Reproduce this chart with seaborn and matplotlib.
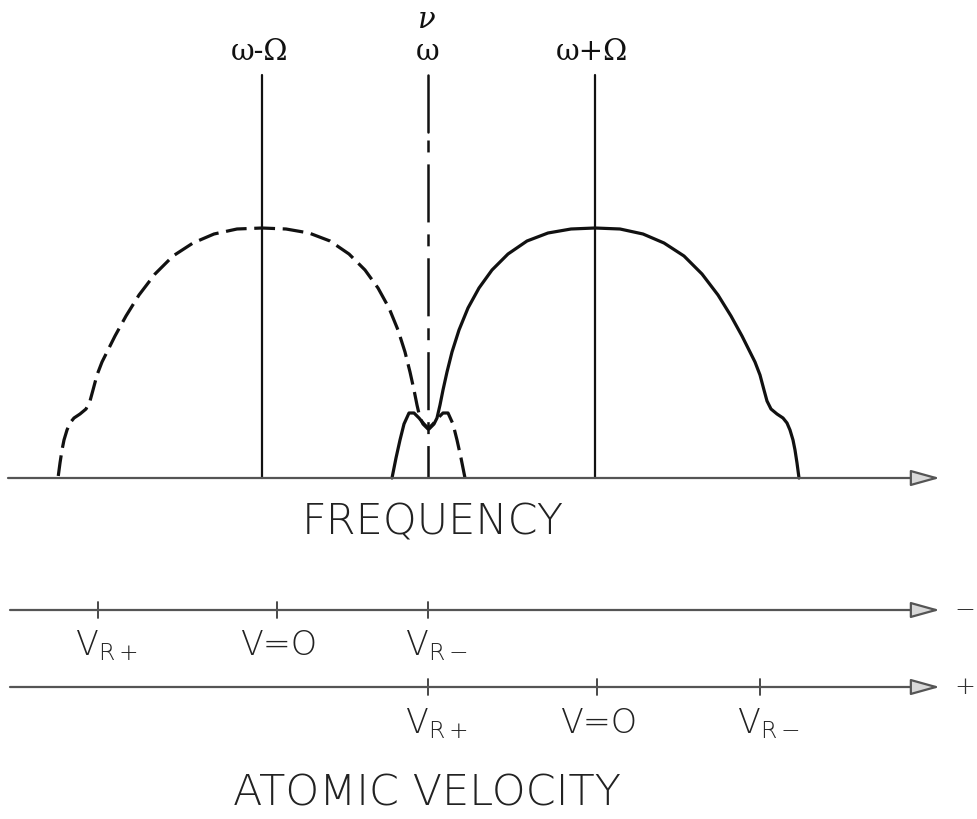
import matplotlib
matplotlib.use("Agg")
import matplotlib.pyplot as plt
import seaborn as sns
import numpy as np

sns.set_style("white")
plt.rcParams["font.family"] = ["DejaVu Sans"]
plt.rcParams["lines.scale_dashes"] = False
plt.rcParams["mathtext.fontset"] = "dejavusans"

# ---------------- data (canvas units: x = frequency position, y = screen height) -------------
omega_labels = ["ω-Ω", "ω", "ω+Ω"]
omega_pos = [262, 428, 595]

# solid spectrum (upper sideband, centered at ω+Ω)
solid_x = [392, 396, 400, 404, 409, 414, 419, 424, 429, 434, 437, 440, 443, 447, 452, 459, 468,
           479, 492, 508, 527, 548, 571, 595, 620, 643, 664, 684, 702, 718, 731, 742, 750, 755,
           760, 764, 767, 771, 777, 783, 787, 790, 793, 795, 797, 799]
solid_y = [478, 458, 440, 424, 413, 413, 418, 424, 429, 424, 418, 405, 390, 372, 352, 330, 308,
           288, 270, 254, 241, 233, 229, 228, 229, 234, 243, 256, 274, 295, 316, 336, 352, 362,
           375, 390, 401, 409, 414, 418, 423, 430, 440, 450, 463, 478]

# dashed spectrum (lower sideband, centered at ω-Ω)
dashed_x = [465, 461, 457, 453, 448, 443, 438, 433, 428, 423, 420, 417, 414, 410, 405, 398, 389,
            378, 365, 349, 330, 309, 286, 262, 237, 214, 193, 173, 155, 139, 126, 115, 107, 102,
            97, 93, 90, 86, 80, 74, 70, 67, 64, 62, 60, 58]
dashed_y = [478, 458, 440, 424, 413, 413, 418, 424, 429, 424, 418, 405, 390, 372, 352, 330, 308,
            288, 270, 254, 241, 233, 229, 228, 229, 234, 243, 256, 274, 295, 316, 336, 352, 362,
            375, 390, 401, 409, 414, 418, 423, 430, 440, 450, 463, 478]

# velocity axes
vel_minus_ticks = [98, 277, 428]
vel_minus_labels = [("V", "R+"), ("V=O", ""), ("V", "R-")]
vel_plus_ticks = [428, 597, 760]
vel_plus_labels = [("V", "R+"), ("V=O", ""), ("V", "R-")]

# ---------------- figure ----------------
fig = plt.figure(figsize=(9.78, 8.19), dpi=100)
ax = fig.add_axes([0, 0, 1, 1])
ax.set_xlim(0, 978)
ax.set_ylim(819, 0)
ax.axis("off")

INK = "#111111"
AXC = "#3a3a3a"

y_freq = 478
y_vm = 610
y_vp = 687
line_top = 75

# sideband & carrier vertical lines
for xp in (omega_pos[0], omega_pos[2]):
    sns.lineplot(x=[xp, xp], y=[line_top, y_freq], ax=ax, color=INK, lw=1.6,
                 sort=False, estimator=None)
# carrier: solid top then dash pattern
sns.lineplot(x=[omega_pos[1], omega_pos[1]], y=[line_top, 132], ax=ax, color=INK, lw=1.8,
             sort=False, estimator=None)
sns.lineplot(x=[omega_pos[1], omega_pos[1]], y=[140, y_freq], ax=ax, color=INK, lw=1.8,
             sort=False, estimator=None)
ax.lines[-1].set_linestyle((0, (8.6, 8.6, 41.8, 8.6)))

# spectra
sns.lineplot(x=solid_x, y=solid_y, ax=ax, color=INK, lw=2.3, sort=False, estimator=None)
ax.lines[-1].set_solid_capstyle("round")
sns.lineplot(x=dashed_x, y=dashed_y, ax=ax, color=INK, lw=2.3, sort=False, estimator=None)
ax.lines[-1].set_linestyle((0, (15, 5.5)))

# axes with open arrowheads
def arrow_axis(y, x0=8, x1=940):
    ax.annotate("", xy=(x1, y), xytext=(x0, y),
                arrowprops=dict(arrowstyle="-|>,head_length=1.8,head_width=0.5",
                                lw=1.6, color=AXC, fc="#d9d9d9", ec="#555555",
                                shrinkA=0, shrinkB=0, mutation_scale=10))

arrow_axis(y_freq)
arrow_axis(y_vm, x0=10)
arrow_axis(y_vp, x0=10)

# tick marks on velocity axes
for t in vel_minus_ticks:
    ax.plot([t, t], [y_vm - 8, y_vm + 8], color=AXC, lw=1.3)
for t in vel_plus_ticks:
    ax.plot([t, t], [y_vp - 8, y_vp + 8], color=AXC, lw=1.3)

# top labels
serif = ["DejaVu Serif"]
for lab, xp in zip(omega_labels, omega_pos):
    ax.text(xp - (3 if lab != "ω" else 0), 52, lab, fontsize=21, family=serif,
            ha="center", va="center", color=INK)
ax.text(omega_pos[1] - 1, 20, "ν", fontsize=21, family=serif, style="italic",
        ha="center", va="center", color=INK)

# axis titles
ax.text(433, 535, "FREQUENCY", fontsize=31, fontweight="light", ha="center",
        va="baseline", color="#222222")
ax.text(427, 805, "ATOMIC VELOCITY", fontsize=31, fontweight="light", ha="center",
        va="baseline", color="#222222")

# velocity labels
def vel_label(tick, ybase, main, sub):
    if sub:
        ax.text(tick - 23, ybase, main + r"$_{\mathregular{" + sub + "}}$", fontsize=24,
                fontweight="light", ha="left", va="baseline", color="#222222")
    else:
        ax.text(tick + 3, ybase, main, fontsize=24, fontweight="light", ha="center",
                va="baseline", color="#222222")

for t, (m, s) in zip(vel_minus_ticks, vel_minus_labels):
    vel_label(t, 655, m, s)
for t, (m, s) in zip(vel_plus_ticks, vel_plus_labels):
    vel_label(t, 733, m, s)

# sign markers at right edge
ax.text(975, y_vm, "−", fontsize=18, fontweight="light", ha="right", va="center", color="#333333")
ax.text(975, y_vp, "+", fontsize=18, fontweight="light", ha="right", va="center", color="#333333")

fig.savefig("out.png", dpi=100)
